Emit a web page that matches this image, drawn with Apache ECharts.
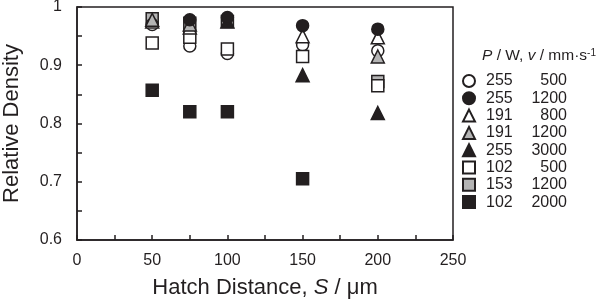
<!DOCTYPE html>
<html>
<head>
<meta charset="utf-8">
<script src="https://cdn.jsdelivr.net/npm/echarts@6/dist/echarts.min.js"></script>
<style>
html, body { margin: 0; padding: 0; background: #fff; }
#main { width: 602px; height: 302px; }
</style>
</head>
<body>
<div id="main"></div>
<script>
var hatch = [50, 75, 100, 150, 200];

var p255v500 = [0.970, 0.933, 0.920, 0.935, 0.925];
var p255v1200 = [null, 0.978, 0.982, 0.968, 0.962];
var p191v800 = [0.975, 0.965, null, 0.950, 0.948];
var p191v1200 = [0.978, 0.970, null, null, 0.915];
var p255v3000 = [null, null, 0.975, 0.883, 0.818];
var p102v500 = [0.938, 0.948, 0.928, 0.915, 0.865];
var p153v1200 = [0.980, 0.972, 0.975, null, 0.872];
var p102v2000 = [0.857, 0.820, 0.820, 0.705, null];

var ink = '#231f20';
var grey = '#b4b4b4';

function pairs(vals) {
    var out = [];
    for (var i = 0; i < hatch.length; i++) {
        if (vals[i] != null) out.push([hatch[i], vals[i]]);
    }
    return out;
}

function mark(name, shape, fill, vals) {
    return {
        name: name,
        type: 'scatter',
        symbol: shape,
        symbolSize: shape == 'triangle' ? 13 : 12,
        itemStyle: { color: fill, borderColor: ink, borderWidth: 1.5, opacity: 1 },
        data: pairs(vals)
    };
}

var series = [
    mark('153 1200', 'rect', grey, p153v1200),
    mark('255 500', 'circle', '#fff', p255v500),
    mark('102 500', 'rect', '#fff', p102v500),
    mark('191 800', 'triangle', '#fff', p191v800),
    mark('191 1200', 'triangle', grey, p191v1200),
    mark('255 3000', 'triangle', ink, p255v3000),
    mark('255 1200', 'circle', ink, p255v1200),
    mark('102 2000', 'rect', ink, p102v2000)
];

var legendOrder = ['255 500', '255 1200', '191 800', '191 1200', '255 3000', '102 500', '153 1200', '102 2000'];

var chart = echarts.init(document.getElementById('main'));
chart.setOption({
    animation: false,
    textStyle: { fontFamily: 'Liberation Sans', color: ink },
    grid: {
        left: 77, right: 149, top: 7, bottom: 62,
        outerBoundsMode: 'none',
        containLabel: false,
        show: true, borderColor: ink, borderWidth: 1.5
    },
    xAxis: {
        type: 'value',
        min: 0, max: 250, interval: 50,
        axisLine: { lineStyle: { color: ink, width: 1.5 } },
        axisTick: { inside: true, length: 5, lineStyle: { color: ink, width: 1.5 } },
        minorTick: { show: true, splitNumber: 2, length: 5, lineStyle: { color: ink, width: 1.5 } },
        splitLine: { show: false },
        axisLabel: { fontSize: 16, color: ink, margin: 13 },
        name: '{a|Hatch Distance, }{i|S}{a| / μm}',
        nameLocation: 'middle',
        nameGap: 37,
        nameTextStyle: {
            rich: {
                a: { fontSize: 22, color: ink, fontFamily: 'Liberation Sans' },
                i: { fontSize: 22, color: ink, fontStyle: 'italic', fontFamily: 'Liberation Sans' }
            }
        }
    },
    yAxis: {
        type: 'value',
        min: 0.6, max: 1, interval: 0.1,
        axisLine: { lineStyle: { color: ink, width: 1.5 } },
        axisTick: { inside: true, length: 5, lineStyle: { color: ink, width: 1.5 } },
        minorTick: { show: true, splitNumber: 2, length: 5, lineStyle: { color: ink, width: 1.5 } },
        splitLine: { show: false },
        axisLabel: {
            fontSize: 16, color: ink, margin: 15,
            formatter: function (v) { return Math.abs(v - 1) < 1e-9 ? '1' : v.toFixed(1); }
        },
        name: 'Relative Density',
        nameLocation: 'middle',
        nameGap: 54,
        nameTextStyle: { fontSize: 22, color: ink }
    },
    legend: {
        data: legendOrder,
        orient: 'vertical',
        left: 457, top: 68,
        itemWidth: 12, itemHeight: 12, itemGap: 1.3,
        selectedMode: false,
        formatter: function (name) {
            var s = name.split(' ');
            return '{p|' + s[0] + '}{v|' + s[1] + '}';
        },
        textStyle: {
            rich: {
                p: { width: 40, align: 'left', fontSize: 16, color: ink, padding: [0, 0, 0, 6] },
                v: { width: 41, align: 'right', fontSize: 16, color: ink }
            }
        }
    },
    graphic: [{
        type: 'text',
        left: 482, top: 48,
        style: {
            text: '{i|P}{a| / W, }{i|v}{a| / mm·s}{s|-1}',
            rich: {
                a: { fontSize: 15.5, fill: ink, fontFamily: 'Liberation Sans' },
                i: { fontSize: 15.5, fill: ink, fontStyle: 'italic', fontFamily: 'Liberation Sans' },
                s: { fontSize: 10, fill: ink, fontFamily: 'Liberation Sans', verticalAlign: 'top', padding: [0, 0, 6, 0] }
            }
        }
    }],
    series: series
});
</script>
</body>
</html>
